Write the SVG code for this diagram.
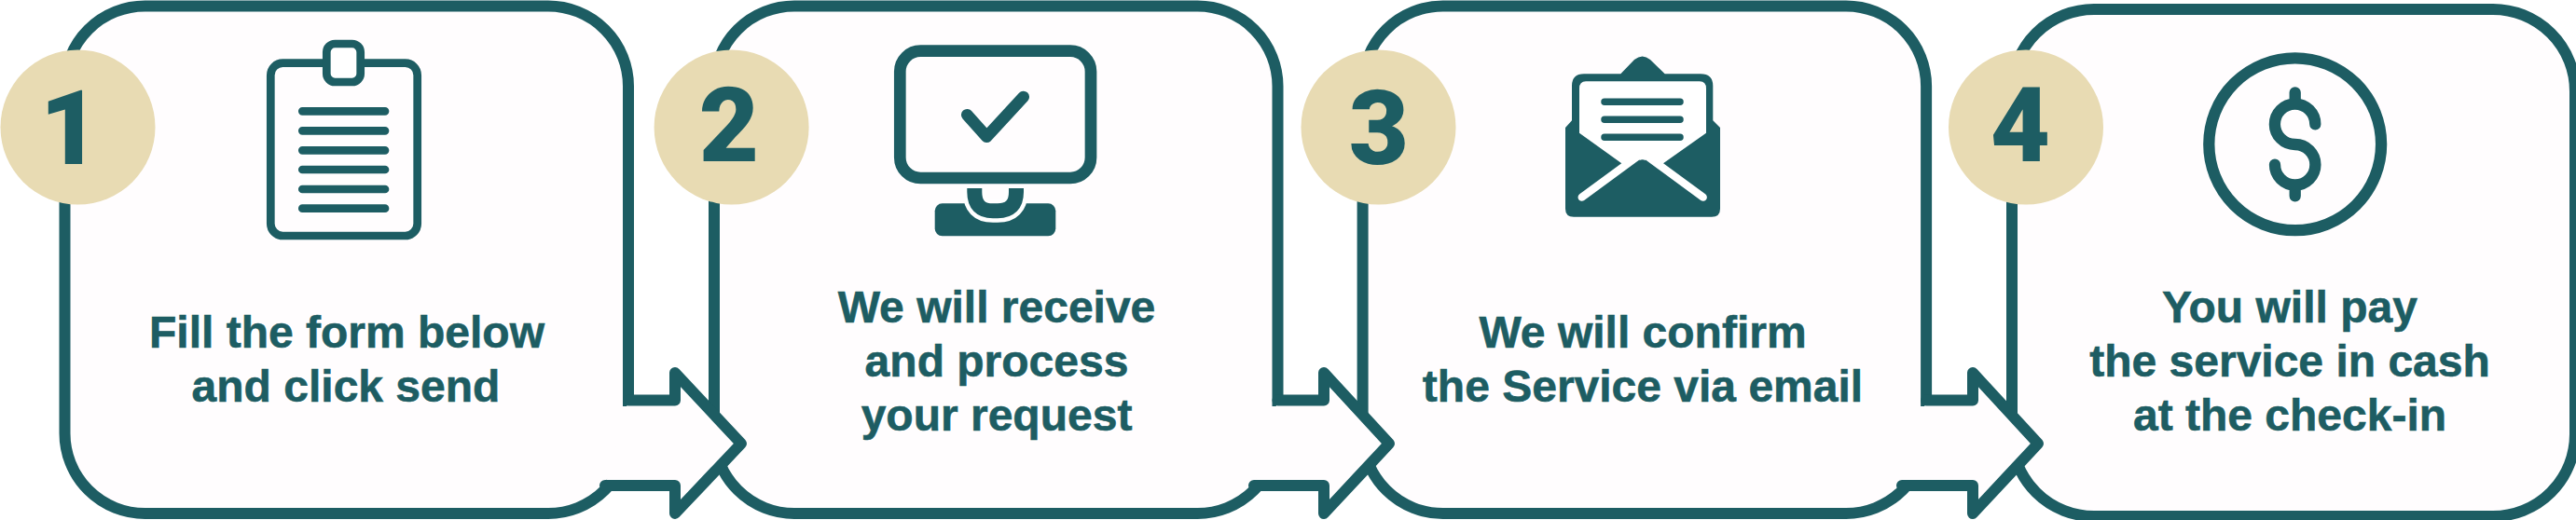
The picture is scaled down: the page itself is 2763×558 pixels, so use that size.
<svg xmlns="http://www.w3.org/2000/svg" width="2763" height="558" viewBox="0 0 2763 558">
<style>
.card{fill:#fffdfe;stroke:#1d5d63;stroke-width:12}
.arrow{fill:#fffdfe;stroke:#1d5d63;stroke-width:12;stroke-linejoin:round;stroke-linecap:round}
.cover{fill:#fffdfe}
.badge{fill:#e8dbb3}
.num{font-family:Roboto,"Liberation Sans",Arial,sans-serif;font-weight:900;font-size:111px;fill:#1d5d63;text-anchor:middle}
.lbl{font-family:"Liberation Sans",Arial,sans-serif;font-weight:700;font-size:48px;fill:#1d5d63;stroke:#1d5d63;stroke-width:.6;text-anchor:middle}
.ln{fill:none;stroke:#1d5d63;stroke-width:8.7;stroke-linecap:round;stroke-linejoin:round}
.dark{fill:#1d5d63}
.w{fill:#fff}
</style>
<rect width="2763" height="558" fill="#fff"/>
<g id="step-1">
<rect class="card" x="69.5" y="6.5" width="604.5" height="544.5" rx="86"/>
<circle class="badge" cx="83.5" cy="136.5" r="83"/>
<text class="num" x="75" y="176">1</text>
<rect x="290.3" y="67.7" width="157.4" height="185.3" rx="13" fill="none" stroke="#1d5d63" stroke-width="8.7"/>
<rect class="w" x="350.3" y="47" width="36.4" height="41" rx="9" stroke="#1d5d63" stroke-width="8.7"/>
<path class="ln" d="M324.3 119.3H413M324.3 140.3H413M324.3 161.3H413M324.3 182H413M324.3 203H413M324.3 223.7H413"/>
<text class="lbl" x="372" y="373">Fill the form below</text>
<text class="lbl" x="371" y="431">and click send</text>
</g>
<g id="step-2">
<rect class="card" x="766" y="6.5" width="604.5" height="544.5" rx="86"/>
<circle class="badge" cx="784.6" cy="136.5" r="83"/>
<text class="num" x="782" y="173">2</text>
<rect x="965.3" y="54.7" width="204.7" height="136.3" rx="22" fill="none" stroke="#1d5d63" stroke-width="12.7"/>
<path class="ln" style="stroke-width:12.7" d="M1037.3 123.3L1058.3 146.7L1097.7 104"/>
<rect class="dark" x="1002.7" y="218.3" width="129.6" height="35" rx="8"/>
<path d="M1045.3 202V206Q1045.3 226.3 1065 226.3H1070Q1090 226.3 1090 206V202" fill="none" stroke="#fff" stroke-width="25"/>
<path d="M1045.3 202V206Q1045.3 226.3 1065 226.3H1070Q1090 226.3 1090 206V202" fill="none" stroke="#1d5d63" stroke-width="16"/>
<text class="lbl" x="1069" y="346">We will receive</text>
<text class="lbl" x="1069" y="404">and process</text>
<text class="lbl" x="1069" y="462">your request</text>
</g>
<g id="step-3">
<rect class="card" x="1461.6" y="6.5" width="604.5" height="544.5" rx="86"/>
<circle class="badge" cx="1478.5" cy="136.5" r="83"/>
<text class="num" x="1479" y="176">3</text>
<path class="dark" d="M1686 92Q1686 79.3 1699 79.3H1738.3L1753 64Q1761.7 57 1770 64L1785.7 79.3H1824Q1837.3 79.3 1837.3 92V129.3L1845 137V224Q1845 232.7 1836 232.7H1688Q1679 232.7 1679 224V137L1686 129.3Z"/>
<path class="w" d="M1694 95Q1694 87.3 1701 87.3H1823Q1830 87.3 1830 95V142.7L1783.3 175.7L1761.7 160L1740 175.7L1694 142.7Z"/>
<path d="M1696.7 211.7L1761.7 164L1826.7 211.7" fill="none" stroke="#fff" stroke-width="8.3" stroke-linecap="round"/>
<path class="w" d="M1758.3 172.3Q1761.7 170 1765.1 172.3L1761.7 160Z"/>
<path class="ln" style="stroke-width:7.5" d="M1721 109.3H1802M1721 128.3H1802M1721 147.3H1802"/>
<text class="lbl" x="1762" y="373">We will confirm</text>
<text class="lbl" x="1762" y="431">the Service via email</text>
</g>
<g id="step-4">
<rect class="card" x="2158" y="10" width="604" height="544" rx="88"/>
<circle class="badge" cx="2173" cy="136.5" r="83"/>
<text class="num" x="2167" y="173">4</text>
<circle cx="2461.7" cy="154.8" r="92.4" fill="none" stroke="#1d5d63" stroke-width="12.3"/>
<path class="ln" style="stroke-width:12.3" d="M2483.3 133.3A21.7 21.7 0 1 0 2461.7 155A21.7 21.7 0 1 1 2440 176.7M2461.7 99.3V111M2461.7 198.3V210.3"/>
<text class="lbl" x="2456" y="346">You will pay</text>
<text class="lbl" x="2456" y="404">the service in cash</text>
<text class="lbl" x="2456" y="462">at the check-in</text>
</g>
<g id="connectors">
<rect class="cover" x="660" y="436" width="64" height="79"/>
<rect class="cover" x="1356.5" y="436" width="64" height="79"/>
<rect class="cover" x="2052" y="436" width="64" height="79"/>
<path class="arrow" d="M674 429.5H724V400L795 476L724 551V521H649"/>
<path class="arrow" d="M1370.5 429.5H1420V400L1490 476L1420 551V521H1345"/>
<path class="arrow" d="M2066 429.5H2116V400L2186 476L2116 551V521H2040"/>
</g>
</svg>
